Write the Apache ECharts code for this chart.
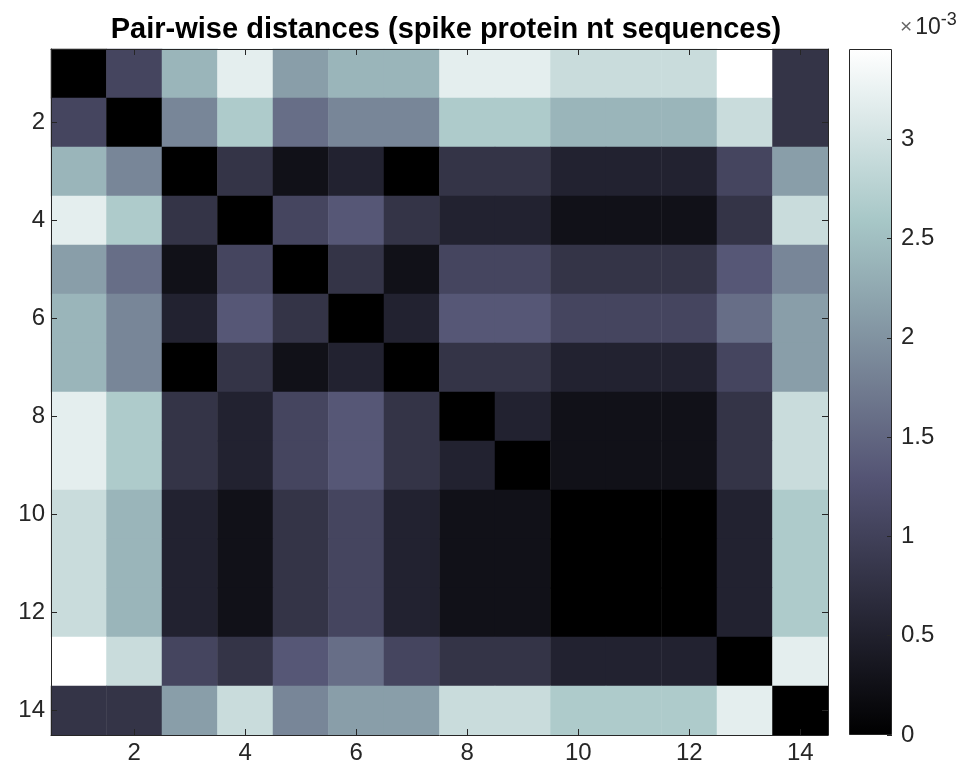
<!DOCTYPE html>
<html>
<head>
<meta charset="utf-8">
<script src="https://cdn.jsdelivr.net/npm/echarts@6/dist/echarts.min.js"></script>
<style>
html,body{margin:0;padding:0;background:#fff;}
#chart{width:962px;height:778px;}
</style>
</head>
<body>
<div id="chart"></div>
<script>
// Sequence indices (rows top-to-bottom, columns left-to-right)
const categories = ['1','2','3','4','5','6','7','8','9','10','11','12','13','14'];
// Pair-wise distances, in units of 1e-3
const row1  = [0.000,1.063,2.391,3.188,2.125,2.391,2.391,3.188,3.188,2.922,2.922,2.922,3.454,0.797];
const row2  = [1.063,0.000,1.860,2.657,1.594,1.860,1.860,2.657,2.657,2.391,2.391,2.391,2.922,0.797];
const row3  = [2.391,1.860,0.000,0.797,0.266,0.531,0.000,0.797,0.797,0.531,0.531,0.531,1.063,2.125];
const row4  = [3.188,2.657,0.797,0.000,1.063,1.328,0.797,0.531,0.531,0.266,0.266,0.266,0.797,2.922];
const row5  = [2.125,1.594,0.266,1.063,0.000,0.797,0.266,1.063,1.063,0.797,0.797,0.797,1.328,1.860];
const row6  = [2.391,1.860,0.531,1.328,0.797,0.000,0.531,1.328,1.328,1.063,1.063,1.063,1.594,2.125];
const row7  = [2.391,1.860,0.000,0.797,0.266,0.531,0.000,0.797,0.797,0.531,0.531,0.531,1.063,2.125];
const row8  = [3.188,2.657,0.797,0.531,1.063,1.328,0.797,0.000,0.531,0.266,0.266,0.266,0.797,2.922];
const row9  = [3.188,2.657,0.797,0.531,1.063,1.328,0.797,0.531,0.000,0.266,0.266,0.266,0.797,2.922];
const row10 = [2.922,2.391,0.531,0.266,0.797,1.063,0.531,0.266,0.266,0.000,0.000,0.000,0.531,2.657];
const row11 = [2.922,2.391,0.531,0.266,0.797,1.063,0.531,0.266,0.266,0.000,0.000,0.000,0.531,2.657];
const row12 = [2.922,2.391,0.531,0.266,0.797,1.063,0.531,0.266,0.266,0.000,0.000,0.000,0.531,2.657];
const row13 = [3.454,2.922,1.063,0.797,1.328,1.594,1.063,0.797,0.797,0.531,0.531,0.531,0.000,3.188];
const row14 = [0.797,0.797,2.125,2.922,1.860,2.125,2.125,2.922,2.922,2.657,2.657,2.657,3.188,0.000];
const rows = [row1,row2,row3,row4,row5,row6,row7,row8,row9,row10,row11,row12,row13,row14];
// Colour scale
const colorMin = 0;
const colorMax = 3.454;
const colorbarTicks = [0,0.5,1,1.5,2,2.5,3];
// MATLAB "bone" colormap sampled at t = 0, 1/8, ..., 1
const boneColors = ['#000000','#1c1c27','#38384d','#545474','#707a8f','#8ba1ab','#a7c7c7','#d3e3e3','#ffffff'];

const heatData = [];
rows.forEach((r, yi) => r.forEach((v, xi) => heatData.push([xi, yi, v])));

const gradStops = boneColors.map((c, i) => ({offset: 1 - i / (boneColors.length - 1), color: c})).reverse();

const FONT = 'Liberation Sans';
const TXT = '#262626';
const FRAME = '#262626';
const evenOnly = (idx) => idx % 2 === 1;

const catAxisBase = {
  type: 'category', data: categories, gridIndex: 0, z: 10,
  axisLine: {show: true, lineStyle: {color: FRAME, width: 1}},
  splitLine: {show: false}
};

const chart = echarts.init(document.getElementById('chart'), null, {renderer: 'canvas'});
chart.setOption({
  animation: false,
  backgroundColor: '#ffffff',
  title: [{
    text: 'Pair-wise distances (spike protein nt sequences)',
    left: 441, top: 10, textAlign: 'center',
    textStyle: {fontFamily: FONT, fontWeight: 'bold', fontSize: 29, color: '#000000'}
  }, {
    text: '{m|×}{b|10}{sup|-3}',
    left: 895, top: 6,
    textStyle: {fontFamily: FONT, fontWeight: 'normal', fontSize: 22, color: TXT,
      rich: {
        m: {fontFamily: FONT, fontWeight: 'normal', fontSize: 21, color: '#666666', padding: [0, 3, 0, 0]},
        b: {fontFamily: FONT, fontWeight: 'normal', fontSize: 23, color: TXT},
        sup: {fontFamily: FONT, fontWeight: 'normal', fontSize: 18, color: TXT, padding: [0, 0, 15, 0]}
      }}
  }],
  grid: [
    {left: 51, top: 49, width: 777, height: 686},
    {left: 849, top: 49, width: 43, height: 686}
  ],
  xAxis: [
    Object.assign({}, catAxisBase, {
      position: 'bottom',
      axisTick: {show: true, inside: true, length: 6, alignWithLabel: true, interval: evenOnly, lineStyle: {color: FRAME}},
      axisLabel: {interval: evenOnly, margin: 6, fontFamily: FONT, fontSize: 24, color: TXT}
    }),
    Object.assign({}, catAxisBase, {
      position: 'top',
      axisTick: {show: true, inside: true, length: 6, alignWithLabel: true, interval: evenOnly, lineStyle: {color: FRAME}},
      axisLabel: {show: false}
    }),
    {type: 'category', gridIndex: 1, data: ['c'], show: false}
  ],
  yAxis: [
    Object.assign({}, catAxisBase, {
      position: 'left', inverse: true,
      axisTick: {show: true, inside: true, length: 6, alignWithLabel: true, interval: evenOnly, lineStyle: {color: FRAME}},
      axisLabel: {interval: evenOnly, margin: 6, fontFamily: FONT, fontSize: 24, color: TXT}
    }),
    Object.assign({}, catAxisBase, {
      position: 'right', inverse: true,
      axisTick: {show: true, inside: true, length: 6, alignWithLabel: true, interval: evenOnly, lineStyle: {color: FRAME}},
      axisLabel: {show: false}
    }),
    {
      type: 'value', gridIndex: 1, position: 'right', min: colorMin, max: colorMax, interval: 0.5, z: 10,
      axisLine: {show: false},
      splitLine: {show: false},
      axisTick: {show: true, inside: true, length: 5, lineStyle: {color: FRAME}},
      axisLabel: {show: true, margin: 9, fontFamily: FONT, fontSize: 24, color: TXT, showMaxLabel: false,
        formatter: (v) => colorbarTicks.indexOf(Math.round(v * 10) / 10) >= 0 ? String(Math.round(v * 10) / 10) : ''}
    }
  ],
  visualMap: {
    type: 'continuous', show: false, min: colorMin, max: colorMax, seriesIndex: 0,
    inRange: {color: boneColors}
  },
  series: [{
    type: 'heatmap', xAxisIndex: 0, yAxisIndex: 0, data: heatData,
    itemStyle: {borderWidth: 0},
    emphasis: {disabled: true}
  }, {
    type: 'bar', xAxisIndex: 2, yAxisIndex: 2, data: [colorMax], barWidth: '100%',
    itemStyle: {
      color: new echarts.graphic.LinearGradient(0, 0, 0, 1, gradStops),
      borderColor: FRAME, borderWidth: 1
    },
    emphasis: {disabled: true}, silent: true
  }]
});
</script>
</body>
</html>
